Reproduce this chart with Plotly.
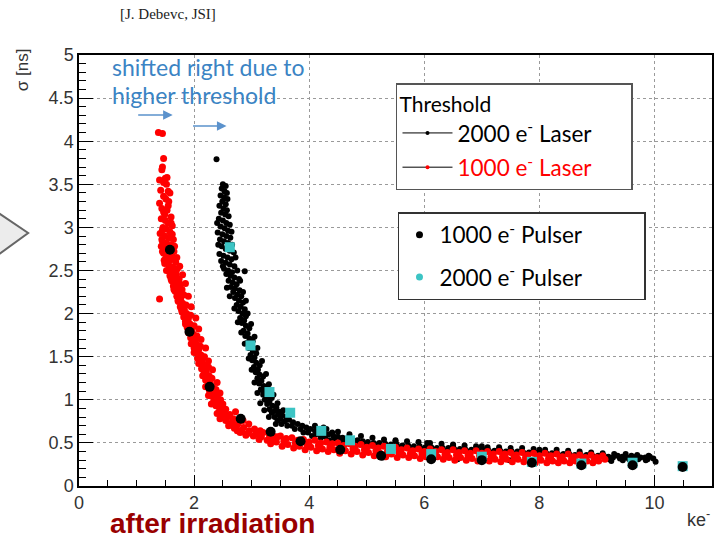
import plotly.graph_objects as go

# ---------------- data ----------------
# 2000 e- threshold, laser scan (black cloud)
black_laser = [
    (2.39,3.79),(2.50,3.50),(2.55,3.48),(2.48,3.45),(2.53,3.42),(2.57,3.40),(2.46,3.37),(2.52,3.35),(2.58,3.33),
    (2.49,3.30),(2.55,3.27),(2.44,3.25),(2.51,3.22),(2.57,3.20),(2.47,3.17),(2.54,3.15),(2.60,3.13),(2.43,3.10),
    (2.50,3.08),(2.56,3.05),(2.62,3.03),(2.46,3.01),(2.53,2.99),(2.59,2.96),(2.41,2.94),(2.49,2.92),(2.56,2.90),
    (2.63,2.88),(2.45,2.86),(2.52,2.84),(2.59,2.82),(2.66,2.80),(2.48,2.78),(2.55,2.75),(2.62,2.73),(2.69,2.71),
    (2.44,2.69),(2.51,2.67),(2.58,2.65),(2.65,2.63),(2.47,2.61),(2.55,2.59),(2.62,2.57),(2.70,2.55),(2.52,2.52),
    (2.59,2.50),(2.66,2.48),(2.88,2.49),(2.56,2.46),(2.63,2.44),(2.70,2.42),(2.78,2.40),(2.60,2.38),(2.67,2.36),
    (2.74,2.34),(2.64,2.31),(2.71,2.29),(2.79,2.27),(2.68,2.25),(2.75,2.22),(2.82,2.20),(2.71,2.18),(2.78,2.15),
    (2.85,2.13),(2.74,2.10),(2.81,2.08),(2.88,2.05),(2.77,2.03),(2.84,2.00),(2.90,1.97),(2.80,1.95),(2.87,1.92),
    (2.83,1.89),(2.90,1.86),(2.96,1.83),(2.86,1.80),(2.93,1.77),(2.89,1.74),(2.96,1.71),(3.02,1.68),(2.92,1.66),
    (2.99,1.63),(2.95,1.60),(3.02,1.57),(3.08,1.54),(2.98,1.52),(3.05,1.49),(3.01,1.46),(3.08,1.43),(3.14,1.40),
    (3.04,1.38),(3.11,1.35),(3.07,1.32),(3.14,1.29),(3.20,1.27),(3.10,1.25),(3.17,1.22),(3.13,1.19),(3.21,1.16),
    (3.27,1.14),(3.16,1.12),(3.24,1.09),(3.20,1.06),(3.28,1.04),(3.35,1.02),(3.23,1.00),(3.31,0.98),(3.27,0.95),
    (3.36,0.93),(3.43,0.91),(3.31,0.89),(3.40,0.87),(3.35,0.85),(3.46,0.83),(3.53,0.82),(3.40,0.80),(3.50,0.78),
    (3.45,0.76),(3.58,0.75),(3.52,0.72),(3.65,0.77),(3.72,0.74),(3.80,0.72),(3.70,0.70),(3.88,0.70),(3.95,0.68),
    (3.85,0.66),(4.02,0.66),(4.10,0.64),(3.98,0.62),(4.18,0.63),(4.26,0.61),(4.12,0.60),(4.34,0.60),(4.42,0.58),
    (4.28,0.57),(4.50,0.57),(4.58,0.56),(4.44,0.55),(4.66,0.55),(4.75,0.54),(4.60,0.53),(4.84,0.53),(4.93,0.52),
    (4.78,0.51),(5.02,0.51),(5.12,0.50),(4.96,0.49),(5.22,0.50),(5.32,0.49),(5.15,0.48),(5.42,0.48),(5.52,0.48),
    (5.35,0.46),(5.62,0.47),(5.72,0.47),(5.55,0.45),(5.82,0.46),(5.92,0.46),(5.76,0.44),(6.02,0.45),(6.12,0.45),
    (5.98,0.43),(6.22,0.44),(6.32,0.44),(6.18,0.42),(6.42,0.44),(6.52,0.43),(6.40,0.41),(6.62,0.43),(6.72,0.42),
    (6.60,0.40),(6.82,0.42),(6.92,0.42),(6.80,0.40),(7.02,0.42),(7.12,0.41),(7.00,0.39),(7.22,0.41),(7.32,0.41),
    (7.20,0.39),(7.42,0.40),(7.52,0.40),(7.40,0.38),(7.62,0.40),(7.72,0.39),(7.60,0.37),(7.82,0.39),(7.92,0.39),
    (7.80,0.37),(8.02,0.38),(8.12,0.38),(8.00,0.36),(8.22,0.38),(8.32,0.37),(8.20,0.35),(8.42,0.37),(8.52,0.37),
    (8.40,0.35),(8.62,0.36),(8.72,0.36),(8.60,0.34),(8.82,0.36),(8.92,0.35),(8.80,0.33),(9.02,0.35),(9.12,0.35),
    (9.00,0.33),(9.20,0.34),(9.28,0.33),(9.22,0.31),(9.36,0.35),(9.44,0.34),(9.40,0.32),(9.52,0.33),(9.60,0.35),
    (9.56,0.31),(9.68,0.34),(9.76,0.33),(9.72,0.31),(9.84,0.33),(9.92,0.34),(9.88,0.31),(9.98,0.32),(10.02,0.28),
    (2.40,3.05),(2.65,2.95),(2.42,2.80),(2.72,2.65),(2.50,2.55),(2.75,2.50),(2.80,2.38),(2.57,2.30),(2.85,2.25),
    (2.62,2.20),(2.90,2.15),(2.70,2.06),(2.93,2.00),(2.76,1.90),(2.99,1.88),(2.82,1.78),(3.05,1.73),(2.88,1.65),
    (3.10,1.60),(2.95,1.48),(3.18,1.45),(3.00,1.35),(3.25,1.30),(3.05,1.20),(3.30,1.18),(3.10,1.08),(3.38,1.06),
    (3.15,0.96),(3.45,0.96),(3.22,0.88),(3.55,0.88),(3.30,0.80),(3.60,0.80),(3.42,0.72),(3.62,0.70),(3.75,0.66),
    (3.90,0.62),(4.05,0.58),(4.20,0.56),(4.35,0.53),(4.55,0.52),(4.70,0.50),(4.88,0.48),(5.05,0.47),(5.28,0.33),
    (6.58,0.31),(7.48,0.30),(6.05,0.50),(6.50,0.47),(7.00,0.46),(8.00,0.42),(5.50,0.52),(4.25,0.68),(4.40,0.62),
    (4.10,0.70),(4.30,0.66),(4.50,0.63),(4.70,0.60),(4.90,0.58),(5.10,0.56),(5.30,0.54),(5.50,0.53),(5.70,0.52),
    (5.90,0.51),(6.10,0.50),(6.30,0.49),(6.50,0.48),(6.70,0.47),(6.90,0.46),(7.10,0.45),(7.30,0.45),(7.50,0.44),
    (7.70,0.44),(7.90,0.43),(8.10,0.42),(8.30,0.42),(8.50,0.41),(8.70,0.40),(8.90,0.39),(9.10,0.38),(9.30,0.37),
    (9.50,0.37),(9.70,0.36),(9.90,0.35),(9.25,0.29),(9.45,0.30),(9.65,0.29),(9.85,0.30),(3.20,1.10),(3.48,0.86),
]

# 1000 e- threshold, laser scan (red cloud)
red_laser = [
    (1.38,4.10),(1.45,4.09),(1.47,3.80),(1.45,3.70),(1.44,3.67),(1.40,3.55),(1.50,3.57),(1.53,3.58),(1.47,3.52),
    (1.52,3.50),(1.42,3.43),(1.55,3.42),(1.58,3.40),(1.47,3.36),(1.51,3.33),(1.40,3.28),(1.56,3.30),(1.44,3.22),
    (1.53,3.20),(1.49,3.15),(1.60,3.12),(1.43,3.10),(1.50,3.08),(1.55,3.05),(1.62,3.02),(1.46,3.00),(1.52,2.98),
    (1.58,2.95),(1.41,2.93),(1.49,2.90),(1.56,2.88),(1.64,2.86),(1.45,2.84),(1.52,2.82),(1.60,2.80),(1.43,2.78),
    (1.50,2.76),(1.57,2.74),(1.65,2.72),(1.47,2.70),(1.54,2.68),(1.62,2.66),(1.51,2.64),(1.58,2.62),(1.68,2.60),
    (1.49,2.58),(1.56,2.56),(1.63,2.54),(1.71,2.52),(1.55,2.50),(1.62,2.48),(1.69,2.46),(1.58,2.44),(1.66,2.42),
    (1.74,2.40),(1.61,2.38),(1.68,2.36),(1.76,2.34),(1.64,2.32),(1.71,2.30),(1.79,2.28),(1.67,2.26),(1.74,2.24),
    (1.82,2.22),(1.70,2.20),(1.77,2.18),(1.40,2.17),(1.73,2.14),(1.80,2.12),(1.86,2.10),(1.76,2.08),(1.83,2.05),
    (1.79,2.02),(1.87,2.00),(1.94,1.98),(1.82,1.96),(1.90,1.94),(1.85,1.91),(1.93,1.88),(2.00,1.86),(1.88,1.84),
    (1.96,1.82),(1.91,1.79),(1.99,1.76),(2.05,1.74),(1.94,1.72),(2.02,1.70),(1.97,1.67),(2.05,1.64),(2.11,1.62),
    (2.00,1.60),(2.08,1.58),(2.03,1.55),(2.12,1.52),(2.18,1.50),(2.06,1.48),(2.14,1.46),(2.10,1.43),(2.19,1.40),
    (2.25,1.38),(2.13,1.36),(2.21,1.33),(2.17,1.30),(2.26,1.28),(2.31,1.25),(2.20,1.23),(2.28,1.20),(2.24,1.17),
    (2.33,1.14),(2.38,1.12),(2.27,1.10),(2.35,1.07),(2.31,1.04),(2.41,1.02),(2.46,1.00),(2.34,0.98),(2.42,0.96),
    (2.38,0.93),(2.49,0.91),(2.55,0.89),(2.44,0.87),(2.52,0.85),(2.62,0.83),(2.48,0.82),(2.58,0.80),(2.68,0.78),
    (2.55,0.76),(2.66,0.74),(2.77,0.73),(2.62,0.71),(2.74,0.70),(2.86,0.68),(2.70,0.67),(2.83,0.65),(2.96,0.64),
    (2.80,0.62),(2.93,0.61),(3.07,0.60),(3.20,0.62),(2.90,0.59),(3.03,0.58),(3.17,0.57),(3.31,0.56),(3.13,0.54),
    (3.27,0.53),
    (2.40,0.84),(2.72,0.86),(2.85,0.76),(2.45,0.78),(2.95,0.72),(2.60,0.70),(3.05,0.66),(2.75,0.64),(3.15,0.64),
    (3.35,0.60),(3.45,0.57),(2.30,0.95),(2.50,0.95),(2.25,1.05),(2.45,1.08),(2.20,1.15),(2.40,1.20),(2.15,1.28),
    (2.32,1.35),(2.08,1.42),(2.25,1.45),(2.00,1.55),(2.20,1.60),(1.95,1.65),(2.12,1.70),(1.90,1.78),(2.08,1.82),
    (1.85,1.88),(2.03,1.95),(1.78,2.05),(1.95,2.08),(1.72,2.15),(1.90,2.20),(1.65,2.28),(1.85,2.35),(1.60,2.40),
    (1.80,2.45),(1.52,2.50),(1.75,2.55),(1.48,2.62),(1.70,2.65),(1.45,2.72),(1.66,2.78),(1.44,2.86),(1.62,2.92),
    (1.45,2.97),(1.60,3.05),(1.47,3.18),(1.55,3.25),
    (3.30,0.61),(3.36,0.55),(3.33,0.49),(3.50,0.58),(3.56,0.52),(3.53,0.46),(3.70,0.56),(3.76,0.50),(3.73,0.44),
    (3.90,0.54),(3.96,0.48),(3.93,0.42),(4.10,0.53),(4.16,0.47),(4.13,0.41),(4.30,0.51),(4.36,0.45),(4.33,0.40),
    (4.50,0.50),(4.56,0.44),(4.53,0.38),(4.70,0.49),(4.76,0.43),(4.73,0.37),(4.90,0.48),(4.96,0.42),(4.93,0.36),
    (5.10,0.47),(5.16,0.41),(5.13,0.35),(5.30,0.46),(5.36,0.40),(5.33,0.34),(5.50,0.45),(5.56,0.39),(5.53,0.33),
    (5.70,0.44),(5.76,0.38),(5.73,0.33),(5.90,0.43),(5.96,0.37),(5.93,0.32),(6.10,0.43),(6.16,0.37),(6.13,0.31),
    (6.30,0.42),(6.36,0.36),(6.33,0.31),(6.50,0.42),(6.56,0.36),(6.53,0.30),(6.70,0.41),(6.76,0.35),(6.73,0.30),
    (6.90,0.41),(6.96,0.35),(6.93,0.29),(7.10,0.40),(7.16,0.34),(7.13,0.29),(7.30,0.40),(7.36,0.34),(7.33,0.28),
    (7.50,0.39),(7.56,0.34),(7.53,0.28),(7.70,0.39),(7.76,0.33),(7.73,0.28),(7.90,0.38),(7.96,0.33),(7.93,0.27),
    (8.10,0.38),(8.16,0.32),(8.13,0.27),(8.30,0.37),(8.36,0.32),(8.33,0.27),(8.50,0.37),(8.56,0.32),(8.53,0.27),
    (8.70,0.36),(8.76,0.31),(8.73,0.27),(8.90,0.36),(8.96,0.31),(8.93,0.27),(9.10,0.35),(9.14,0.31),
    (3.40,0.57),(3.43,0.51),(3.60,0.55),(3.63,0.48),(3.80,0.53),(3.83,0.46),(4.00,0.51),(4.03,0.45),(4.20,0.50),
    (4.23,0.43),(4.40,0.49),(4.43,0.42),(4.60,0.47),(4.63,0.41),(4.80,0.46),(4.83,0.40),(5.00,0.45),(5.03,0.39),
    (5.20,0.44),(5.23,0.38),(5.40,0.43),(5.43,0.37),(5.60,0.42),(5.63,0.36),(5.80,0.41),(5.83,0.35),(6.00,0.40),
    (6.03,0.34),(6.20,0.40),(6.23,0.34),(6.40,0.39),(6.43,0.33),(6.60,0.39),(6.63,0.33),(6.80,0.38),(6.83,0.32),
    (7.00,0.38),(7.03,0.32),(7.20,0.37),(7.23,0.31),(7.40,0.37),(7.43,0.31),(7.60,0.36),(7.63,0.31),(7.80,0.36),
    (7.83,0.30),(8.00,0.35),(8.03,0.30),(8.20,0.35),(8.23,0.29),(8.40,0.34),(8.43,0.29),(8.60,0.34),(8.63,0.29),
    (8.80,0.33),(8.83,0.29),(9.00,0.33),(9.03,0.29),
]

# Pulser measurements
pulser_1000_x = [1.58, 1.92, 2.27, 2.81, 3.33, 3.85, 4.54, 5.25, 6.12, 7.00, 7.87, 8.73, 9.62, 10.49]
pulser_1000_y = [2.74, 1.79, 1.15, 0.78, 0.63, 0.52, 0.42, 0.35, 0.31, 0.30, 0.27, 0.24, 0.24, 0.22]
pulser_2000_x = [2.62, 2.98, 3.31, 3.67, 4.21, 4.71, 5.42, 6.12, 7.00, 7.87, 8.73, 9.62, 10.49]
pulser_2000_y = [2.77, 1.63, 1.09, 0.85, 0.64, 0.53, 0.43, 0.37, 0.34, 0.28, 0.26, 0.27, 0.23]

x_ticks = [0, 2, 4, 6, 8, 10]
y_ticks = [0, 0.5, 1, 1.5, 2, 2.5, 3, 3.5, 4, 4.5, 5]

bl_x = [p[0] for p in black_laser]
bl_y = [p[1] for p in black_laser]
rl_x = [p[0] for p in red_laser]
rl_y = [p[1] for p in red_laser]

# ---------------- figure ----------------
W, H = 718, 542
L, R, T, B = 79, 4, 55, 56
PW, PH = W - L - R, H - T - B

def px(xp):
    return (xp - L) / PW

def py(yp):
    return (H - B - yp) / PH

LEGFONT = "Lato, 'Open Sans', sans-serif"
AXFONT = "'Liberation Sans', Arial, sans-serif"

fig = go.Figure()

fig.add_trace(go.Scatter(x=bl_x, y=bl_y, mode="markers", showlegend=False,
                         marker=dict(color="black", size=6, line=dict(width=0))))
fig.add_trace(go.Scatter(x=rl_x, y=rl_y, mode="markers", showlegend=False,
                         marker=dict(color="#ff0000", size=7, line=dict(width=0))))
fig.add_trace(go.Scatter(x=pulser_2000_x, y=pulser_2000_y, mode="markers", showlegend=False,
                         marker=dict(color="#3cc4c4", size=10, symbol="square", line=dict(width=0))))
fig.add_trace(go.Scatter(x=pulser_1000_x, y=pulser_1000_y, mode="markers", showlegend=False,
                         marker=dict(color="black", size=10, line=dict(width=0))))

# legend entries
PAD1 = "&nbsp;" * 6
PAD2 = "&nbsp;" * 10
fig.add_trace(go.Scatter(x=[None], y=[None], mode="lines+markers", name="2000 e<sup>-</sup> Laser" + PAD1,
                         line=dict(color="black", width=1), marker=dict(color="black", size=4),
                         legend="legend", legendgroup="a"))
fig.add_trace(go.Scatter(x=[None], y=[None], mode="lines+markers",
                         name="<span style='color:#ff0000'>1000 e<sup>-</sup> Laser</span>" + PAD1,
                         line=dict(color="black", width=1), marker=dict(color="#ff0000", size=4),
                         legend="legend", legendgroup="b"))
fig.add_trace(go.Scatter(x=[None], y=[None], mode="markers", name="1000 e<sup>-</sup> Pulser" + PAD2,
                         marker=dict(color="black", size=7), legend="legend2", legendgroup="c"))
fig.add_trace(go.Scatter(x=[None], y=[None], mode="markers", name="2000 e<sup>-</sup> Pulser" + PAD2,
                         marker=dict(color="#3cc4c4", size=7), legend="legend2", legendgroup="d"))

axis_common = dict(showline=True, linecolor="black", linewidth=1.5, mirror=True,
                   ticks="inside", tickcolor="black", tickwidth=1.2,
                   showgrid=True, gridcolor="#9a9a9a", griddash="dot", gridwidth=1,
                   zeroline=False, tickfont=dict(family=AXFONT, size=18, color="#333"))

fig.update_xaxes(range=[0, 11], tickvals=x_ticks, ticklen=11,
                 minor=dict(dtick=0.5, tick0=0, ticklen=6, ticks="inside", tickcolor="black", showgrid=False),
                 **axis_common)
fig.update_yaxes(range=[0, 5], tickvals=y_ticks, ticklen=14,
                 minor=dict(dtick=0.1, tick0=0, ticklen=7, ticks="inside", tickcolor="black", showgrid=False),
                 **axis_common)

fig.update_layout(
    width=W, height=H,
    margin=dict(l=L, r=R, t=T, b=B),
    paper_bgcolor="white", plot_bgcolor="white",
    legend=dict(x=px(397), y=py(83), xanchor="left", yanchor="top",
                bgcolor="white", bordercolor="#555", borderwidth=1.5,
                font=dict(family=LEGFONT, size=22.5, color="black"),
                title=dict(text="Threshold", font=dict(family=LEGFONT, size=21, color="black")),
                tracegroupgap=2, itemwidth=50),
    legend2=dict(x=px(399), y=py(212), xanchor="left", yanchor="top",
                 bgcolor="white", bordercolor="#333", borderwidth=1.5,
                 font=dict(family=LEGFONT, size=22.5, color="black"),
                 tracegroupgap=10, itemwidth=30),
)

ann = []
def text_ann(text, x, y, size, color, family, xanchor="center", **kw):
    ann.append(dict(text=text, x=px(x), y=py(y), xref="paper", yref="paper",
                    xanchor=xanchor, yanchor="middle", showarrow=False,
                    font=dict(family=family, size=size, color=color), **kw))

text_ann("[J. Debevc, JSI]", 168, 14, 15, "#222", "'Liberation Serif', 'Times New Roman', serif")
text_ann("σ [ns]", 22, 70, 17, "#333", AXFONT, textangle=-90)
text_ann("ke<sup>-</sup>", 700, 518, 18, "#333", AXFONT)
text_ann("<b>after irradiation</b>", 213, 523, 28, "#990000", AXFONT)
text_ann("shifted right due to", 110, 67, 23, "#3b84c4", LEGFONT, xanchor="left")
text_ann("higher threshold", 110, 95, 23, "#3b84c4", LEGFONT, xanchor="left")

# arrows
for (hx, hy, length) in [(173, 115, 36), (227, 126, 35)]:
    ann.append(dict(x=px(hx), y=py(hy), xref="paper", yref="paper", ax=-length, ay=0,
                    showarrow=True, arrowhead=2, arrowsize=1.2, arrowwidth=1.6, arrowcolor="#5b92cc", text=""))
fig.update_layout(annotations=ann)

# grey chevron at the left edge
fig.add_shape(type="path", xref="paper", yref="paper",
              path=f"M {px(-12)},{py(206)} L {px(28)},{py(233)} L {px(-12)},{py(262)} Z",
              fillcolor="#ececec", line=dict(color="#666", width=2))

fig.write_html("out.html")
